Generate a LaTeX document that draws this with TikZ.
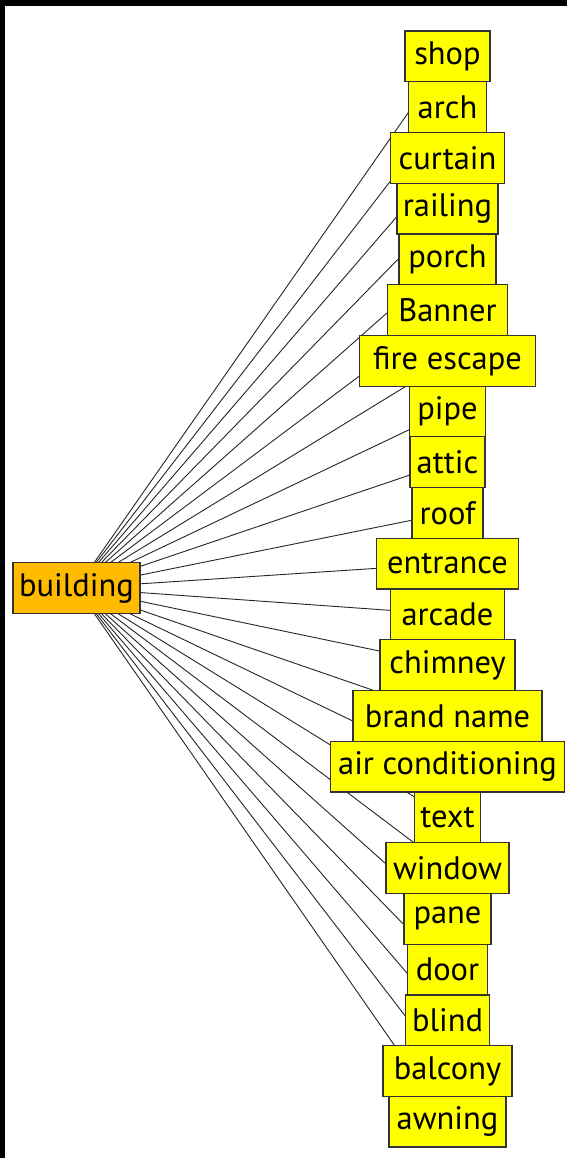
\documentclass[tikz,border=0pt]{standalone}
\usepackage{fontspec}
\setmainfont{PT Sans}
\usetikzlibrary{backgrounds}
\definecolor{boxyellow}{HTML}{FFFF00}
\definecolor{rootorange}{HTML}{FFBB00}
\definecolor{edgegray}{HTML}{333333}
\tikzset{
  termbox/.style={draw=edgegray, line width=1.2pt, fill=boxyellow, inner sep=0pt,
    minimum height=50.7pt, font=\fontsize{32.5}{36}\selectfont, text=black},
  rootbox/.style={termbox, fill=rootorange},
  link/.style={draw=black!85, line width=0.9pt},
}
\begin{document}
\begin{tikzpicture}[x=1pt,y=-1pt]
  \useasboundingbox (0,0) rectangle (567,1158);
  % page and dark frame strips, kept beneath the links
  \begin{pgfonlayer}{background}
    \fill[white] (0,0) rectangle (567,1158);
    \fill[black] (0,0) rectangle (567,6);
    \fill[black] (0,0) rectangle (5,1158);
  \end{pgfonlayer}

  \node[rootbox, minimum width=127pt] (root) at (76.5,588) {building};

  \foreach \i/\lbl/\w in {
      0/shop/85, 1/arch/78, 2/curtain/114, 3/railing/101, 4/porch/97,
      5/Banner/120, 6/fire escape/176, 7/pipe/76, 8/attic/75, 9/roof/71,
      10/entrance/142, 11/arcade/114, 12/chimney/135, 13/brand name/189,
      14/air conditioning/234, 15/text/66, 16/window/123, 17/pane/87,
      18/door/80, 19/blind/84, 20/balcony/129, 21/awning/117}
  {
    \node[termbox, minimum width=\w pt] (c\i) at (447.5, 56.4+50.73*\i) {\lbl};
    \begin{pgfonlayer}{background}
      \draw[link] (root.center) -- (c\i.center);
    \end{pgfonlayer}
  }
\end{tikzpicture}
\end{document}
